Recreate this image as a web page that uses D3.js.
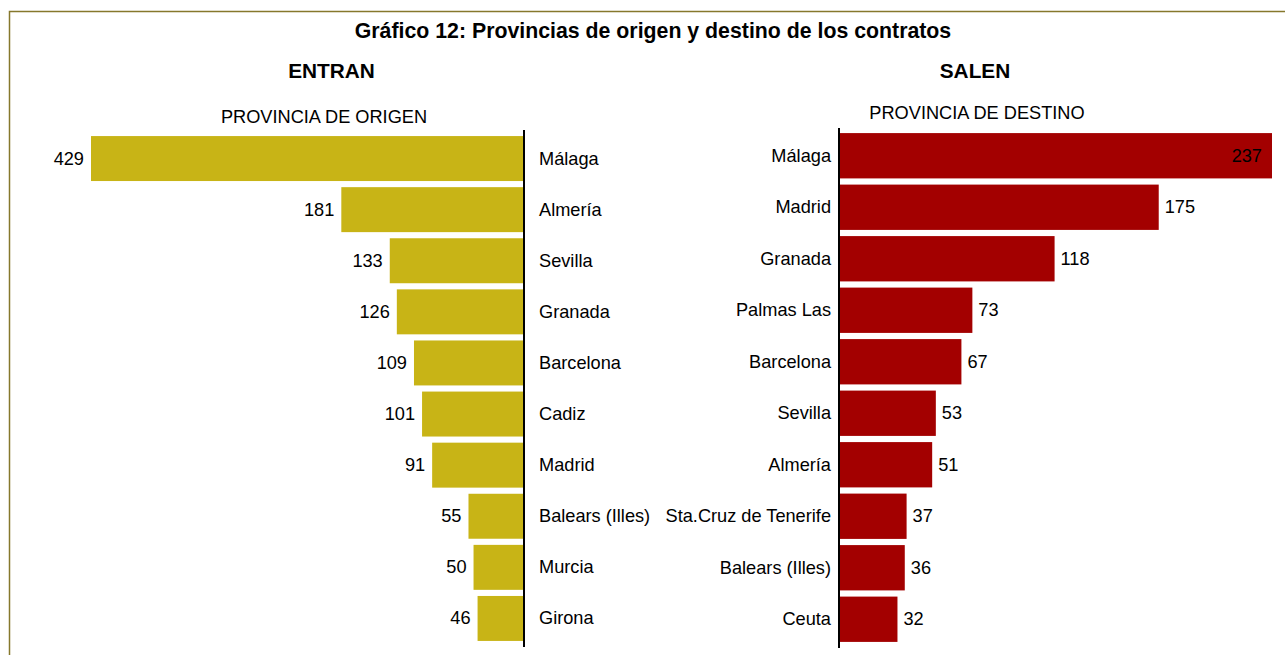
<!DOCTYPE html>
<html><head><meta charset="utf-8">
<script src="https://cdn.jsdelivr.net/npm/d3@7"></script>
<style>body{margin:0;background:#fff}svg{display:block;font-family:"Liberation Sans",Arial,sans-serif}</style>
</head><body><svg id="c" width="1285" height="655"></svg>
<script>
const title = "Gráfico 12: Provincias de origen y destino de los contratos";
const leftTitle = "ENTRAN", rightTitle = "SALEN";
const leftSub = "PROVINCIA DE ORIGEN", rightSub = "PROVINCIA DE DESTINO";
const origenCats = ["Málaga","Almería","Sevilla","Granada","Barcelona","Cadiz","Madrid","Balears (Illes)","Murcia","Girona"];
const origenVals = [429,181,133,126,109,101,91,55,50,46];
const destinoCats = ["Málaga","Madrid","Granada","Palmas Las","Barcelona","Sevilla","Almería","Sta.Cruz de Tenerife","Balears (Illes)","Ceuta"];
const destinoVals = [237,175,118,73,67,53,51,37,36,32];

const svg = d3.select("#c");
const gold = "#c8b416", red = "#a30000";
const fs = 18.2;

svg.append("rect").attr("x",9.5).attr("y",11.5).attr("width",1300).attr("height",700)
  .attr("fill","none").attr("stroke","#86782c").attr("stroke-width",1.5);

svg.append("text").attr("x",653).attr("y",31).attr("text-anchor","middle").attr("dominant-baseline","central")
  .attr("font-size",21.3).attr("font-weight","bold").text(title);
svg.append("text").attr("x",331.5).attr("y",70).attr("text-anchor","middle").attr("dominant-baseline","central")
  .attr("font-size",20.8).attr("font-weight","bold").text(leftTitle);
svg.append("text").attr("x",975).attr("y",70).attr("text-anchor","middle").attr("dominant-baseline","central")
  .attr("font-size",20.8).attr("font-weight","bold").text(rightTitle);
svg.append("text").attr("x",324).attr("y",117).attr("text-anchor","middle").attr("dominant-baseline","central")
  .attr("font-size",fs).text(leftSub);
svg.append("text").attr("x",977).attr("y",113).attr("text-anchor","middle").attr("dominant-baseline","central")
  .attr("font-size",fs).text(rightSub);

// Left panel
const yL = d3.scaleBand().domain(origenCats).range([133,644]).paddingInner(0.12).paddingOuter(0.06);
const xL = d3.scaleLinear().domain([0,430]).range([524,90]);
const gL = svg.append("g");
gL.selectAll("rect").data(origenVals).join("rect")
  .attr("x",d=>xL(d)).attr("y",(d,i)=>yL(origenCats[i]))
  .attr("width",d=>xL(0)-xL(d)).attr("height",yL.bandwidth()).attr("fill",gold);
gL.selectAll("text.v").data(origenVals).join("text").attr("class","v")
  .attr("x",d=>xL(d)-7).attr("y",(d,i)=>yL(origenCats[i])+yL.bandwidth()/2)
  .attr("text-anchor","end").attr("dominant-baseline","central").attr("font-size",fs).text(d=>d);
gL.selectAll("text.c").data(origenCats).join("text").attr("class","c")
  .attr("x",539).attr("y",d=>yL(d)+yL.bandwidth()/2)
  .attr("dominant-baseline","central").attr("font-size",fs).text(d=>d);
gL.append("line").attr("x1",524).attr("x2",524).attr("y1",130).attr("y2",647).attr("stroke","#000").attr("stroke-width",2);

// Right panel
const yR = d3.scaleBand().domain(destinoCats).range([130,645]).paddingInner(0.12).paddingOuter(0.06);
const xR = d3.scaleLinear().domain([0,240]).range([839,839+240*1.827]);
const gR = svg.append("g");
gR.selectAll("rect").data(destinoVals).join("rect")
  .attr("x",xR(0)).attr("y",(d,i)=>yR(destinoCats[i]))
  .attr("width",d=>xR(d)-xR(0)).attr("height",yR.bandwidth()).attr("fill",red);
gR.selectAll("text.v").data(destinoVals).join("text").attr("class","v")
  .attr("x",(d,i)=>i===0 ? xR(d)-10 : xR(d)+6)
  .attr("text-anchor",(d,i)=>i===0 ? "end" : "start")
  .attr("y",(d,i)=>yR(destinoCats[i])+yR.bandwidth()/2)
  .attr("dominant-baseline","central").attr("font-size",fs).text(d=>d);
gR.selectAll("text.c").data(destinoCats).join("text").attr("class","c")
  .attr("x",831).attr("y",d=>yR(d)+yR.bandwidth()/2).attr("text-anchor","end")
  .attr("dominant-baseline","central").attr("font-size",fs).text(d=>d);
gR.append("line").attr("x1",839).attr("x2",839).attr("y1",128).attr("y2",648).attr("stroke","#000").attr("stroke-width",2);
</script></body></html>
